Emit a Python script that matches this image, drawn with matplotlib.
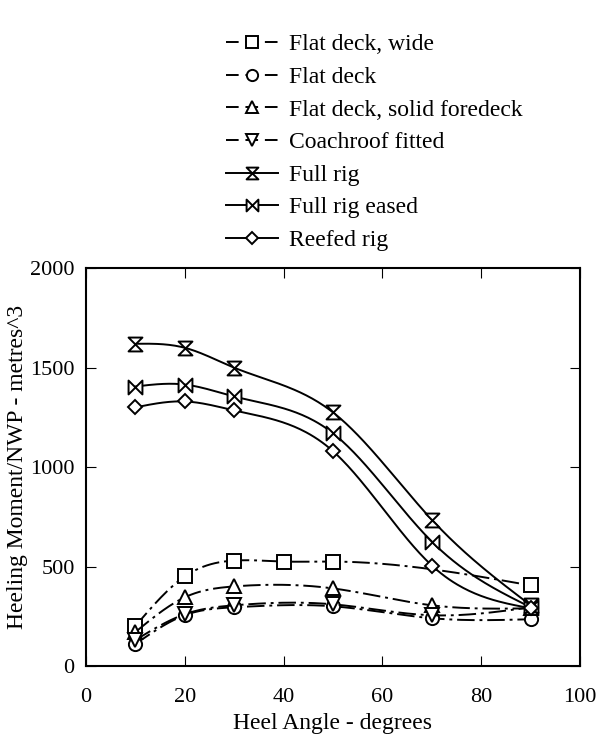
import numpy as np
import matplotlib.pyplot as plt
from matplotlib.path import Path

plt.rcParams['font.family'] = ['Liberation Serif', 'DejaVu Serif']

# data
angles = [10, 20, 30, 50, 70, 90]
angles_wide = [10, 20, 30, 40, 50, 90]

flat_wide = [200, 450, 530, 525, 525, 405]
flat_deck = [110, 255, 295, 300, 240, 235]
flat_solid = [170, 345, 400, 390, 305, 290]
coachroof = [130, 260, 305, 310, 255, 295]
full_rig = [1620, 1600, 1500, 1275, 735, 305]
full_eased = [1405, 1415, 1355, 1170, 625, 295]
reefed = [1300, 1330, 1285, 1080, 505, 290]

labels = ['Flat deck, wide', 'Flat deck', 'Flat deck, solid foredeck',
          'Coachroof fitted', 'Full rig', 'Full rig eased', 'Reefed rig']

hourglass = Path([(-1, 1), (1, 1), (-1, -1), (1, -1), (-1, 1)],
                 [Path.MOVETO, Path.LINETO, Path.LINETO, Path.LINETO, Path.CLOSEPOLY])
bowtie = Path([(-1, 1), (-1, -1), (1, 1), (1, -1), (-1, 1)],
              [Path.MOVETO, Path.LINETO, Path.LINETO, Path.LINETO, Path.CLOSEPOLY])


def natural_spline(x, y, n=200):
    """Smooth curve through the points (natural cubic spline)"""
    x = np.asarray(x, float)
    y = np.asarray(y, float)
    k = len(x)
    h = np.diff(x)
    A = np.zeros((k, k))
    r = np.zeros(k)
    A[0, 0] = A[-1, -1] = 1
    for i in range(1, k - 1):
        A[i, i - 1] = h[i - 1]
        A[i, i] = 2 * (h[i - 1] + h[i])
        A[i, i + 1] = h[i]
        r[i] = 6 * ((y[i + 1] - y[i]) / h[i] - (y[i] - y[i - 1]) / h[i - 1])
    m = np.linalg.solve(A, r)
    xs = np.linspace(x[0], x[-1], n)
    idx = np.clip(np.searchsorted(x, xs) - 1, 0, k - 2)
    x0, x1 = x[idx], x[idx + 1]
    hh = x1 - x0
    a = (x1 - xs) / hh
    b = (xs - x0) / hh
    ys = (a * y[idx] + b * y[idx + 1]
          + ((a ** 3 - a) * m[idx] + (b ** 3 - b) * m[idx + 1]) * hh ** 2 / 6)
    return xs, ys


dashdot = (0, (9, 2.5, 1.5, 2.5))
series = [
    (angles_wide, flat_wide, 's', 9.5, dashdot),
    (angles, flat_deck, 'o', 9.5, dashdot),
    (angles, flat_solid, '^', 9.5, dashdot),
    (angles, coachroof, 'v', 9.5, dashdot),
    (angles, full_rig, hourglass, 10, '-'),
    (angles, full_eased, bowtie, 10, '-'),
    (angles, reefed, 'D', 7, '-'),
]

fig = plt.figure(figsize=(6, 7.38), dpi=100)
ax = fig.add_axes([0.143, 0.0976, 0.824, 0.539])

handles = []
for (x, y, mk, ms, ls), lab in zip(series, labels):
    xs, ys = natural_spline(x, y)
    ax.plot(xs, ys, color='black', lw=1.4, linestyle=ls)
    ax.plot(x, y, linestyle='none', marker=mk, markersize=ms, markerfacecolor='white',
            markeredgecolor='black', markeredgewidth=1.4)
    h, = plt.plot([], [], color='black', lw=1.4, linestyle=ls if ls == '-' else (0, (6.5, 3.5)),
                  marker=mk, markersize=ms * 0.85, markerfacecolor='white',
                  markeredgecolor='black', markeredgewidth=1.4, label=lab)
    handles.append(h)

ax.set_xlim(0, 100)
ax.set_ylim(0, 2000)
ax.set_xticks([0, 20, 40, 60, 80, 100])
ax.set_yticks([0, 500, 1000, 1500, 2000])
ax.tick_params(direction='in', top=True, right=True, length=7, width=0.8, labelsize=16)
ax.tick_params(axis='x', pad=16)
ax.tick_params(axis='y', pad=8)
for s in ax.spines.values():
    s.set_linewidth(1.5)
ax.set_xlabel('Heel Angle - degrees', fontsize=17, labelpad=4)
ax.set_ylabel('Heeling Moment/NWP - metres^3', fontsize=17)
ax.yaxis.set_label_coords(-0.116, 0.5)

fig.legend(handles=handles, loc='upper left', bbox_to_anchor=(0.342, 0.983),
           frameon=False, fontsize=17, handlelength=2.2, labelspacing=0.47,
           handletextpad=0.45, numpoints=1)

plt.savefig('out.png', dpi=100)
plt.close(fig)
